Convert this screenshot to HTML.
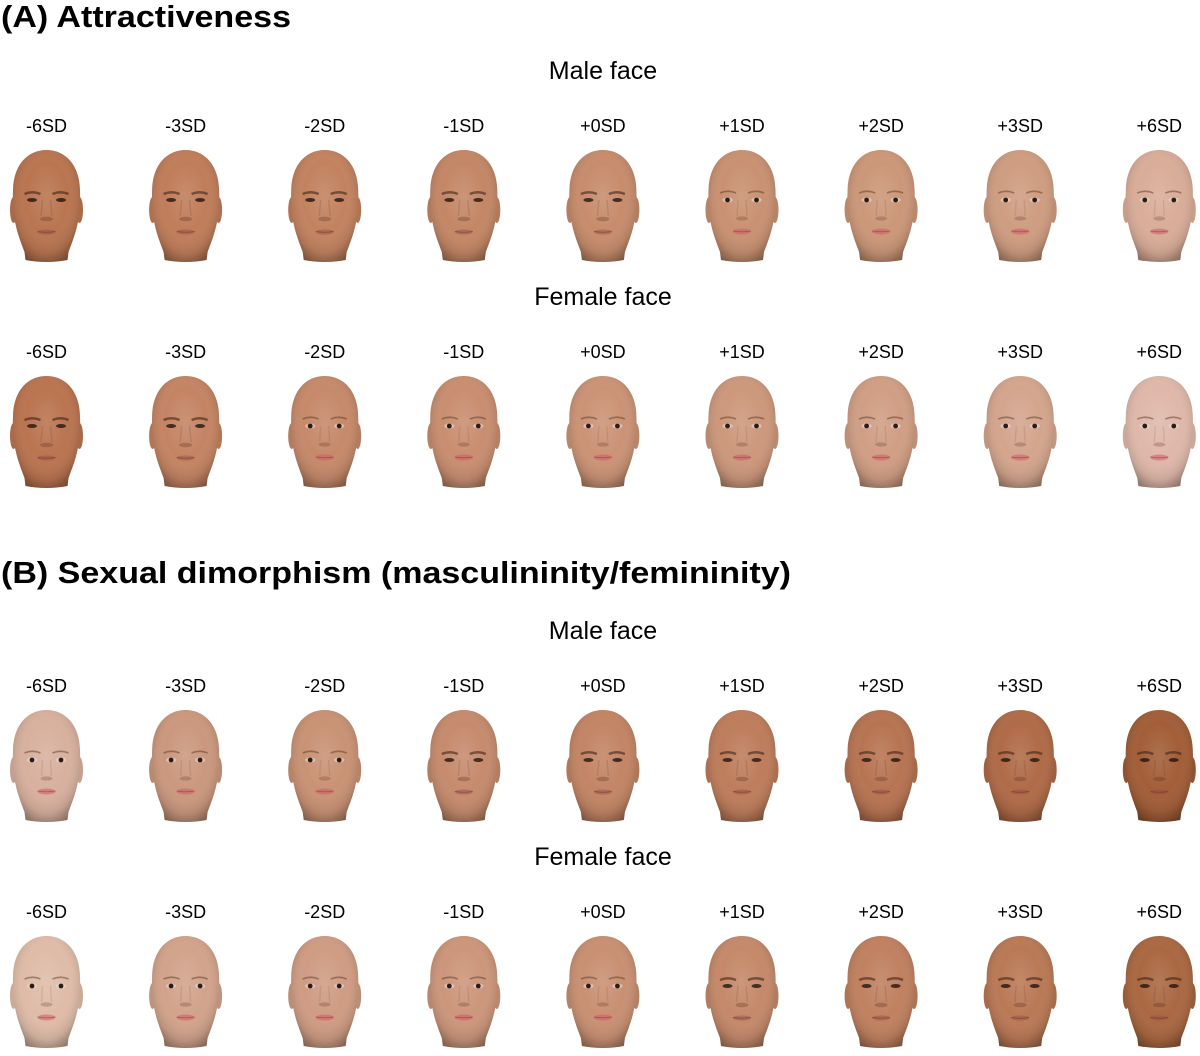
<!DOCTYPE html>
<html><head><meta charset="utf-8"><style>
html,body{margin:0;padding:0;background:#fff;}
svg{display:block;}
.t{font-family:"Liberation Sans",Arial,sans-serif;fill:#000;}
.h{font-size:31px;font-weight:bold;}
.r{font-size:25px;}
.l{font-size:18px;}
</style></head><body>
<svg width="1200" height="1056" viewBox="0 0 1200 1056" xmlns="http://www.w3.org/2000/svg">
<defs>
<path id="hd" d="M0,0 C19,0 33,15 33.5,40 C34,55 33,66 31,74 C29,84 25,94 22,102 L21,110 Q0,114 -21,110 L-22,102 C-25,94 -29,84 -31,74 C-33,66 -34,55 -33.5,40 C-33,15 -19,0 0,0 Z"/>
<g id="ears"><ellipse cx="-33" cy="60" rx="3.5" ry="13"/><ellipse cx="33" cy="60" rx="3.5" ry="13"/></g>
<radialGradient id="sh" cx="0.5" cy="0.42" r="0.62">
<stop offset="0" stop-color="#fff" stop-opacity="0.12"/>
<stop offset="0.5" stop-color="#fff" stop-opacity="0"/>
<stop offset="0.82" stop-color="#000" stop-opacity="0.1"/>
<stop offset="1" stop-color="#000" stop-opacity="0.35"/>
</radialGradient>
<g id="fm">
<path d="M-22,44 Q-14,40.5 -6,44" stroke="#3e2418" stroke-opacity="0.6" stroke-width="2.4" fill="none"/>
<path d="M22,44 Q14,40.5 6,44" stroke="#3e2418" stroke-opacity="0.6" stroke-width="2.4" fill="none"/>
<ellipse cx="-14.5" cy="50" rx="5" ry="2" fill="#241510" fill-opacity="0.8"/>
<ellipse cx="14.5" cy="50" rx="5" ry="2" fill="#241510" fill-opacity="0.8"/>
<path d="M-4,50 L-5.5,66 M4,50 L5.5,66" stroke="#5a3020" stroke-opacity="0.15" stroke-width="1.5" fill="none"/>
<ellipse cx="0" cy="69" rx="6.5" ry="2.3" fill="#5a3020" fill-opacity="0.3"/>
<ellipse cx="0" cy="82" rx="9" ry="2.6" fill="#9a5048" fill-opacity="0.45"/>
<path d="M-9,81.5 Q0,83 9,81.5" stroke="#5a2a20" stroke-opacity="0.5" stroke-width="0.8" fill="none"/>
</g>
<g id="ff">
<path d="M-22,43 Q-14,39.5 -6,43" stroke="#4e3024" stroke-opacity="0.45" stroke-width="1.7" fill="none"/>
<path d="M22,43 Q14,39.5 6,43" stroke="#4e3024" stroke-opacity="0.45" stroke-width="1.7" fill="none"/>
<ellipse cx="-14.5" cy="50" rx="5.2" ry="2.4" fill="#eadcd4" fill-opacity="0.6"/>
<ellipse cx="14.5" cy="50" rx="5.2" ry="2.4" fill="#eadcd4" fill-opacity="0.6"/>
<circle cx="-14.5" cy="50" r="2.4" fill="#2a1c18"/>
<circle cx="14.5" cy="50" r="2.4" fill="#2a1c18"/>
<path d="M-4,50 L-5,66 M4,50 L5,66" stroke="#5a3020" stroke-opacity="0.12" stroke-width="1.4" fill="none"/>
<ellipse cx="0" cy="68.5" rx="6" ry="2.1" fill="#5a3020" fill-opacity="0.25"/>
<ellipse cx="0" cy="81.5" rx="9" ry="3" fill="#d05a68" fill-opacity="0.55"/>
<path d="M-9,81 Q0,82.5 9,81" stroke="#7a2a30" stroke-opacity="0.45" stroke-width="0.8" fill="none"/>
</g>
</defs>

<text class="t h" x="1" y="27" textLength="290" lengthAdjust="spacingAndGlyphs">(A) Attractiveness</text>
<text class="t h" x="1" y="583" textLength="790" lengthAdjust="spacingAndGlyphs">(B) Sexual dimorphism (masculininity/femininity)</text>

<text class="t r" x="603" y="79" text-anchor="middle">Male face</text>
<text class="t r" x="603" y="305" text-anchor="middle">Female face</text>
<text class="t r" x="603" y="639" text-anchor="middle">Male face</text>
<text class="t r" x="603" y="865" text-anchor="middle">Female face</text>

<g class="t l" text-anchor="middle">
<text x="46.5" y="132">-6SD</text><text x="185.6" y="132">-3SD</text><text x="324.7" y="132">-2SD</text><text x="463.8" y="132">-1SD</text><text x="602.9" y="132">+0SD</text><text x="742" y="132">+1SD</text><text x="881.1" y="132">+2SD</text><text x="1020.2" y="132">+3SD</text><text x="1159.3" y="132">+6SD</text>
<text x="46.5" y="358">-6SD</text><text x="185.6" y="358">-3SD</text><text x="324.7" y="358">-2SD</text><text x="463.8" y="358">-1SD</text><text x="602.9" y="358">+0SD</text><text x="742" y="358">+1SD</text><text x="881.1" y="358">+2SD</text><text x="1020.2" y="358">+3SD</text><text x="1159.3" y="358">+6SD</text>
<text x="46.5" y="692">-6SD</text><text x="185.6" y="692">-3SD</text><text x="324.7" y="692">-2SD</text><text x="463.8" y="692">-1SD</text><text x="602.9" y="692">+0SD</text><text x="742" y="692">+1SD</text><text x="881.1" y="692">+2SD</text><text x="1020.2" y="692">+3SD</text><text x="1159.3" y="692">+6SD</text>
<text x="46.5" y="918">-6SD</text><text x="185.6" y="918">-3SD</text><text x="324.7" y="918">-2SD</text><text x="463.8" y="918">-1SD</text><text x="602.9" y="918">+0SD</text><text x="742" y="918">+1SD</text><text x="881.1" y="918">+2SD</text><text x="1020.2" y="918">+3SD</text><text x="1159.3" y="918">+6SD</text>
</g>

<!-- Row A male -->
<g transform="translate(46.5,150)" fill="#b97550"><use href="#ears" fill="#a86a48"/><use href="#hd"/><use href="#hd" fill="url(#sh)"/><use href="#fm"/></g>
<g transform="translate(185.6,150)" fill="#c07d5a"><use href="#ears" fill="#ae7050"/><use href="#hd"/><use href="#hd" fill="url(#sh)"/><use href="#fm"/></g>
<g transform="translate(324.7,150)" fill="#c2825f"><use href="#ears" fill="#b07454"/><use href="#hd"/><use href="#hd" fill="url(#sh)"/><use href="#fm"/></g>
<g transform="translate(463.8,150)" fill="#c48766"><use href="#ears" fill="#b27a5a"/><use href="#hd"/><use href="#hd" fill="url(#sh)"/><use href="#fm"/></g>
<g transform="translate(602.9,150)" fill="#c78c6c"><use href="#ears" fill="#b47e60"/><use href="#hd"/><use href="#hd" fill="url(#sh)"/><use href="#fm"/></g>
<g transform="translate(742,150)" fill="#c99172"><use href="#ears" fill="#b68466"/><use href="#hd"/><use href="#hd" fill="url(#sh)"/><use href="#ff"/></g>
<g transform="translate(881.1,150)" fill="#cc9779"><use href="#ears" fill="#b9896c"/><use href="#hd"/><use href="#hd" fill="url(#sh)"/><use href="#ff"/></g>
<g transform="translate(1020.2,150)" fill="#cf9d81"><use href="#ears" fill="#bc8f74"/><use href="#hd"/><use href="#hd" fill="url(#sh)"/><use href="#ff"/></g>
<g transform="translate(1159.3,150)" fill="#d9ad98"><use href="#ears" fill="#c89e88"/><use href="#hd"/><use href="#hd" fill="url(#sh)"/><use href="#ff"/></g>

<!-- Row A female -->
<g transform="translate(46.5,376)" fill="#ba7450"><use href="#ears" fill="#a86a48"/><use href="#hd"/><use href="#hd" fill="url(#sh)"/><use href="#fm"/></g>
<g transform="translate(185.6,376)" fill="#c48463"><use href="#ears" fill="#b27656"/><use href="#hd"/><use href="#hd" fill="url(#sh)"/><use href="#fm"/></g>
<g transform="translate(324.7,376)" fill="#c6896a"><use href="#ears" fill="#b47c5e"/><use href="#hd"/><use href="#hd" fill="url(#sh)"/><use href="#ff"/></g>
<g transform="translate(463.8,376)" fill="#c98e70"><use href="#ears" fill="#b68064"/><use href="#hd"/><use href="#hd" fill="url(#sh)"/><use href="#ff"/></g>
<g transform="translate(602.9,376)" fill="#cb9376"><use href="#ears" fill="#b8866a"/><use href="#hd"/><use href="#hd" fill="url(#sh)"/><use href="#ff"/></g>
<g transform="translate(742,376)" fill="#cd987c"><use href="#ears" fill="#ba8a70"/><use href="#hd"/><use href="#hd" fill="url(#sh)"/><use href="#ff"/></g>
<g transform="translate(881.1,376)" fill="#d09e84"><use href="#ears" fill="#bd9078"/><use href="#hd"/><use href="#hd" fill="url(#sh)"/><use href="#ff"/></g>
<g transform="translate(1020.2,376)" fill="#d4a58d"><use href="#ears" fill="#c19780"/><use href="#hd"/><use href="#hd" fill="url(#sh)"/><use href="#ff"/></g>
<g transform="translate(1159.3,376)" fill="#dfb8aa"><use href="#ears" fill="#cca89a"/><use href="#hd"/><use href="#hd" fill="url(#sh)"/><use href="#ff"/></g>

<!-- Row B male -->
<g transform="translate(46.5,710)" fill="#d8b09e"><use href="#ears" fill="#c6a08e"/><use href="#hd"/><use href="#hd" fill="url(#sh)"/><use href="#ff"/></g>
<g transform="translate(185.6,710)" fill="#cb987e"><use href="#ears" fill="#b88a70"/><use href="#hd"/><use href="#hd" fill="url(#sh)"/><use href="#ff"/></g>
<g transform="translate(324.7,710)" fill="#c99275"><use href="#ears" fill="#b68468"/><use href="#hd"/><use href="#hd" fill="url(#sh)"/><use href="#ff"/></g>
<g transform="translate(463.8,710)" fill="#c68b6d"><use href="#ears" fill="#b37e60"/><use href="#hd"/><use href="#hd" fill="url(#sh)"/><use href="#fm"/></g>
<g transform="translate(602.9,710)" fill="#c38565"><use href="#ears" fill="#b07858"/><use href="#hd"/><use href="#hd" fill="url(#sh)"/><use href="#fm"/></g>
<g transform="translate(742,710)" fill="#be7d5c"><use href="#ears" fill="#ac7050"/><use href="#hd"/><use href="#hd" fill="url(#sh)"/><use href="#fm"/></g>
<g transform="translate(881.1,710)" fill="#b77452"><use href="#ears" fill="#a56848"/><use href="#hd"/><use href="#hd" fill="url(#sh)"/><use href="#fm"/></g>
<g transform="translate(1020.2,710)" fill="#b06b48"><use href="#ears" fill="#9e6040"/><use href="#hd"/><use href="#hd" fill="url(#sh)"/><use href="#fm"/></g>
<g transform="translate(1159.3,710)" fill="#a25e38"><use href="#ears" fill="#905230"/><use href="#hd"/><use href="#hd" fill="url(#sh)"/><use href="#fm"/></g>

<!-- Row B female -->
<g transform="translate(46.5,936)" fill="#dfbca8"><use href="#ears" fill="#ccaa96"/><use href="#hd"/><use href="#hd" fill="url(#sh)"/><use href="#ff"/></g>
<g transform="translate(185.6,936)" fill="#d2a38b"><use href="#ears" fill="#bf947c"/><use href="#hd"/><use href="#hd" fill="url(#sh)"/><use href="#ff"/></g>
<g transform="translate(324.7,936)" fill="#cf9c83"><use href="#ears" fill="#bc8e76"/><use href="#hd"/><use href="#hd" fill="url(#sh)"/><use href="#ff"/></g>
<g transform="translate(463.8,936)" fill="#cc967b"><use href="#ears" fill="#b9886e"/><use href="#hd"/><use href="#hd" fill="url(#sh)"/><use href="#ff"/></g>
<g transform="translate(602.9,936)" fill="#c99073"><use href="#ears" fill="#b68266"/><use href="#hd"/><use href="#hd" fill="url(#sh)"/><use href="#ff"/></g>
<g transform="translate(742,936)" fill="#c5896a"><use href="#ears" fill="#b27c5e"/><use href="#hd"/><use href="#hd" fill="url(#sh)"/><use href="#fm"/></g>
<g transform="translate(881.1,936)" fill="#c08160"><use href="#ears" fill="#ae7454"/><use href="#hd"/><use href="#hd" fill="url(#sh)"/><use href="#fm"/></g>
<g transform="translate(1020.2,936)" fill="#ba7956"><use href="#ears" fill="#a86c4c"/><use href="#hd"/><use href="#hd" fill="url(#sh)"/><use href="#fm"/></g>
<g transform="translate(1159.3,936)" fill="#aa6842"><use href="#ears" fill="#985c3a"/><use href="#hd"/><use href="#hd" fill="url(#sh)"/><use href="#fm"/></g>
</svg>
</body></html>
